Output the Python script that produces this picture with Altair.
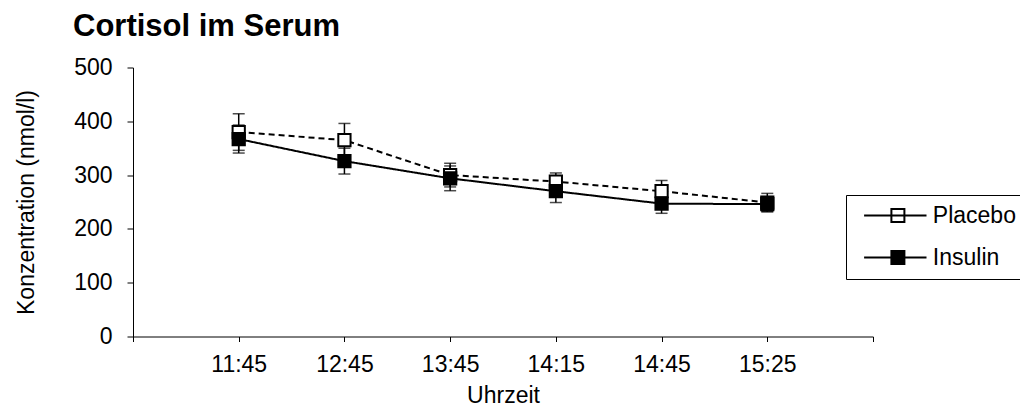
import json
import altair as alt
import pandas as pd

times = ["11:45", "12:45", "13:45", "14:15", "14:45", "15:25"]
series = ["Placebo", "Insulin"]
placebo = [380, 365, 300, 288, 270, 249]
placebo_err = [34, 31, 22, 16, 20, 17]
insulin = [367, 326, 294, 270, 247, 246]
insulin_err = [26, 24, 23, 21, 18, 14]
y_ticks = [0, 100, 200, 300, 400, 500]

FONT = "Liberation Sans"

rows = []
for name, vals, errs in [("Placebo", placebo, placebo_err), ("Insulin", insulin, insulin_err)]:
    for i, (t, v, e) in enumerate(zip(times, vals, errs)):
        rows.append({"Gruppe": name, "pos": i + 1, "Uhrzeit": t, "wert": v,
                     "lo": v - e, "hi": v + e})
df = pd.DataFrame(rows)

label_expr = ("datum.value >= 1 && datum.value <= %d ? %s[datum.value - 1] : ''"
              % (len(times), json.dumps(times)))

x_enc = alt.X("pos:Q", title="Uhrzeit",
              scale=alt.Scale(domain=[0, len(times) + 1], nice=False, zero=False),
              axis=alt.Axis(values=list(range(0, len(times) + 2)), labelExpr=label_expr,
                            grid=False, tickSize=5, labelPadding=12, titlePadding=8,
                            labelOverlap=False))
y_scale = alt.Scale(domain=[0, 500], nice=False)
y_axis = alt.Axis(values=y_ticks, grid=False, tickSize=6, labelPadding=15,
                  titleX=-107, titleBaseline="middle")

base = alt.Chart(df)

bars = base.mark_rule(color="black", strokeWidth=1.5).encode(
    x=x_enc,
    y=alt.Y("lo:Q", title="Konzentration (nmol/l)", scale=y_scale, axis=y_axis),
    y2="hi:Q",
)
cap_lo = base.mark_tick(color="black", orient="horizontal", size=12, thickness=1.5).encode(
    x="pos:Q", y="lo:Q")
cap_hi = base.mark_tick(color="black", orient="horizontal", size=12, thickness=1.5).encode(
    x="pos:Q", y="hi:Q")

lines = base.mark_line(color="black", strokeWidth=2).encode(
    x="pos:Q",
    y="wert:Q",
    strokeDash=alt.StrokeDash("Gruppe:N", scale=alt.Scale(domain=series, range=[[6, 4], [1, 0]]),
                              legend=None),
)

legend_sym = "M-5.2,0H-1M-1,-1H1V1H-1ZM-1,0H1M1,0H4.4"

points = base.mark_point(shape="square", filled=False, size=150, strokeWidth=2,
                         opacity=1, color="black").encode(
    x="pos:Q",
    y="wert:Q",
    fill=alt.Fill("Gruppe:N", title=None,
                  scale=alt.Scale(domain=series, range=["white", "black"]),
                  legend=alt.Legend(orient="none", legendX=713, legendY=127.5,
                                    strokeColor="black", fillColor="white", padding=9,
                                    rowPadding=18, labelFont=FONT, labelFontSize=23,
                                    labelColor="black", symbolOffset=31.4, labelOffset=23.4,
                                    symbolStrokeColor="black", symbolStrokeWidth=2,
                                    symbolSize=169, symbolType=legend_sym,
                                    values=series)),
)

chart = alt.layer(bars, cap_lo, cap_hi, lines, points).resolve_legend(
    fill="independent", strokeDash="independent"
).properties(
    width=740,
    height=269,
    padding={"left": 125, "top": 59.5, "right": 147, "bottom": 72},
    autosize=alt.AutoSizeParams(type="none"),
    title=alt.TitleParams("Cortisol im Serum", anchor="start", frame="group", dx=-60,
                          offset=0, dy=10, baseline="alphabetic", font=FONT, fontSize=31,
                          fontWeight="bold", color="black"),
).configure_view(stroke=None).configure_axis(
    domainColor="black", tickColor="black", labelColor="black", titleColor="black",
    labelFont=FONT, titleFont=FONT, labelFontSize=23, titleFontSize=23,
    titleFontWeight="normal", domainWidth=1, tickWidth=1,
)

chart.save("out.html", embed_options={"renderer": "svg", "actions": False})
